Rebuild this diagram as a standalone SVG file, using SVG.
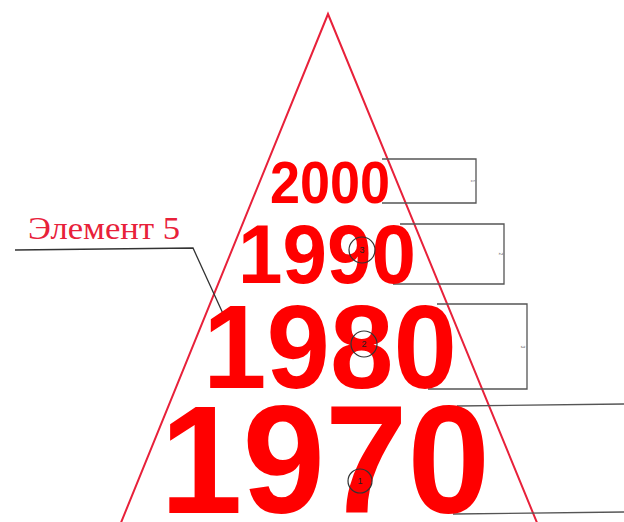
<svg xmlns="http://www.w3.org/2000/svg" width="624" height="522" viewBox="0 0 624 522">
<style>
.yr{font-family:"Liberation Sans",Arial,sans-serif;font-weight:bold;fill:#ff0000}
.box{fill:none;stroke:#555;stroke-width:1.3}
.tri{fill:none;stroke:#e8213a;stroke-width:2}
.circ{fill:none;stroke:#333;stroke-width:1.2}
.num{font-family:"Liberation Sans",Arial,sans-serif;font-size:9px;fill:#222;text-anchor:middle}
.tiny{font-family:"Liberation Sans",Arial,sans-serif;font-size:5px;fill:#777;text-anchor:middle}
.lbl{font-family:"Liberation Serif","Times New Roman",serif;fill:#e8213a}
.lead{fill:none;stroke:#333;stroke-width:1.3}
</style>
<rect width="624" height="522" fill="#ffffff"/>
<g id="triangle">
<polyline class="tri" points="118,530 328,14 540,530"/>
</g>
<g id="connectors">
<polyline class="lead" points="15,250 193,248 225,318"/>
</g>
<g id="node-2000">
<path class="box" d="M382,159 H476 V203 H382"/>
<text class="tiny" x="473" y="183" transform="rotate(90 473 181)">1</text>
<text class="yr" x="270" y="203" font-size="60" textLength="120" lengthAdjust="spacingAndGlyphs">2000</text>
</g>
<g id="node-1990">
<path class="box" d="M400,224 H504 V284 H393"/>
<text class="tiny" x="501" y="256" transform="rotate(90 501 254)">2</text>
<text class="yr" x="238" y="283" font-size="84" textLength="178" lengthAdjust="spacingAndGlyphs">1990</text>
<circle class="circ" cx="362" cy="250" r="13"/>
<text class="num" x="362" y="253">3</text>
</g>
<g id="node-1980">
<path class="box" d="M437,304 H527 V389 H428"/>
<text class="tiny" x="523" y="349" transform="rotate(90 523 347)">3</text>
<text class="yr" x="203" y="388" font-size="119" textLength="254" lengthAdjust="spacingAndGlyphs">1980</text>
<circle class="circ" cx="364" cy="344" r="13"/>
<text class="num" x="364" y="347">2</text>
</g>
<g id="node-1970">
<path class="box" d="M457,406 L624,404 M453,514 L624,512"/>
<text class="yr" x="160" y="513" font-size="154" textLength="330" lengthAdjust="spacingAndGlyphs">1970</text>
<circle class="circ" cx="360" cy="481" r="12"/>
<text class="num" x="360" y="484">1</text>
</g>
<g id="label-element5">
<text class="lbl" x="28" y="239" font-size="32" textLength="152" lengthAdjust="spacingAndGlyphs">Элемент 5</text>
</g>
</svg>
